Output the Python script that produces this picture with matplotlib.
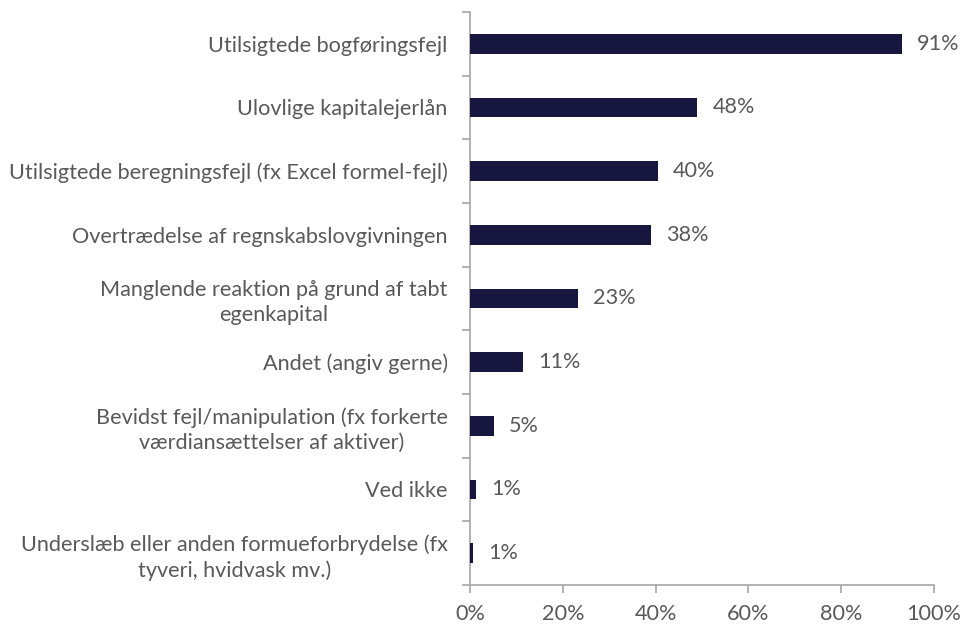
import matplotlib.pyplot as plt
import numpy as np
from matplotlib.ticker import FuncFormatter

# data (bar lengths) and the printed data labels
categories = [
    "Utilsigtede bogføringsfejl",
    "Ulovlige kapitalejerlån",
    "Utilsigtede beregningsfejl (fx Excel formel-fejl)",
    "Overtrædelse af regnskabslovgivningen",
    "Manglende reaktion på grund af tabt\negenkapital",
    "Andet (angiv gerne)",
    "Bevidst fejl/manipulation (fx forkerte\nværdiansættelser af aktiver)",
    "Ved ikke",
    "Underslæb eller anden formueforbrydelse (fx\ntyveri, hvidvask mv.)",
]
values = [0.93, 0.49, 0.405, 0.39, 0.233, 0.115, 0.051, 0.012, 0.007]
value_labels = ["91%", "48%", "40%", "38%", "23%", "11%", "5%", "1%", "1%"]
x_ticks = [0.0, 0.2, 0.4, 0.6, 0.8, 1.0]

BAR_COLOR = "#16163e"
TEXT_COLOR = "#595959"
AXIS_COLOR = "#a6a6a6"
FONT = ["Lato", "DejaVu Sans"]
FS = 15.6

plt.rcParams["font.family"] = FONT

fig = plt.figure(figsize=(9.74, 6.26), dpi=100)
ax = fig.add_axes([0.4825, 0.0655, 0.959 - 0.4825, 0.981 - 0.0655])

y = np.arange(len(categories))
ax.barh(y, values, height=0.31, color=BAR_COLOR, zorder=3)

for yi, v, lab in zip(y, values, value_labels):
    ax.annotate(lab, (v, yi), xytext=(11, 0), textcoords="offset points",
                ha="left", va="center", fontsize=FS, color=TEXT_COLOR)

ax.set_xlim(0, 1)
ax.set_ylim(len(categories) - 0.5, -0.5)
ax.set_xticks(x_ticks)
ax.xaxis.set_major_formatter(FuncFormatter(lambda v, _: f"{v:.0%}"))

# category labels sit between boundary ticks
ax.set_yticks(np.arange(len(categories) + 1) - 0.5)
ax.set_yticklabels([])
ax.set_yticks(y, minor=True)
ax.set_yticklabels(categories, minor=True, fontsize=FS, color=TEXT_COLOR,
                   multialignment="center", linespacing=1.3)
ax.tick_params(axis="y", which="minor", length=0, pad=16)
ax.tick_params(axis="y", which="major", length=6, width=1.2, color=AXIS_COLOR)
ax.tick_params(axis="x", length=6, width=1.2, color=AXIS_COLOR,
               labelsize=FS, labelcolor=TEXT_COLOR, pad=8)

for side in ("top", "right"):
    ax.spines[side].set_visible(False)
for side in ("left", "bottom"):
    ax.spines[side].set_color(AXIS_COLOR)
    ax.spines[side].set_linewidth(1.2)

fig.savefig("out.png", dpi=100)
